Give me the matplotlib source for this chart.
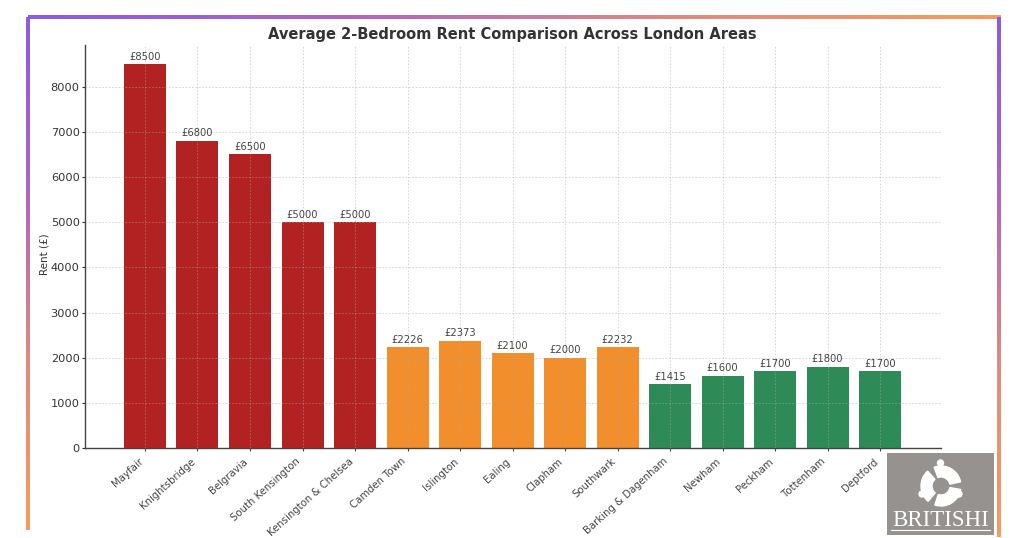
import numpy as np
import matplotlib
matplotlib.use('Agg')
import matplotlib.pyplot as plt
from matplotlib.colors import LinearSegmentedColormap
from matplotlib.patches import Rectangle, Circle, Wedge

areas = ['Mayfair', 'Knightsbridge', 'Belgravia', 'South Kensington', 'Kensington & Chelsea',
         'Camden Town', 'Islington', 'Ealing', 'Clapham', 'Southwark',
         'Barking & Dagenham', 'Newham', 'Peckham', 'Tottenham', 'Deptford']
rents = [8500, 6800, 6500, 5000, 5000,
         2226, 2373, 2100, 2000, 2232,
         1415, 1600, 1700, 1800, 1700]
bar_colors = ['#b22222'] * 5 + ['#f28e2b'] * 5 + ['#2e8b57'] * 5
y_ticks = [0, 1000, 2000, 3000, 4000, 5000, 6000, 7000, 8000]

W, H = 1024, 538
TEXT = '#333333'


def px_axes(fig, x0, y0, x1, y1, **kw):
    # axes placed by pixel box, y measured from the top
    return fig.add_axes([x0 / W, 1 - y1 / H, (x1 - x0) / W, (y1 - y0) / H], **kw)


fig = plt.figure(figsize=(W / 100, H / 100), dpi=100)

ax = px_axes(fig, 84.5, 45, 941, 448)
ax.bar(areas, rents, color=bar_colors, width=0.8, zorder=2)
ax.set_xlim(-1.152, 15.16)
ax.set_ylim(0, 8925)
ax.set_yticks(y_ticks)
ax.grid(True, linestyle=(0, (2, 2)), linewidth=0.6, color='#aaaaaa', alpha=0.55, zorder=3)
ax.set_axisbelow(False)
ax.spines['top'].set_visible(False)
ax.spines['right'].set_visible(False)
for s in ['left', 'bottom']:
    ax.spines[s].set_color('#444444')
    ax.spines[s].set_linewidth(1.0)
ax.tick_params(axis='y', colors=TEXT, labelsize=8.2, length=2, pad=1.5)
ax.tick_params(axis='x', labelsize=7.3, colors='#444444', length=2, pad=4)
plt.setp(ax.get_xticklabels(), rotation=42, ha='right')
ax.set_ylabel('Rent (£)', fontsize=7.5, color=TEXT)
ax.yaxis.set_label_coords(-0.041, 0.481)
for i, v in enumerate(rents):
    ax.text(i, v + 55, f'£{v}', ha='center', va='bottom', fontsize=7.2, color='#444444')
fig.text(512.5 / W, 1 - 34.5 / H, 'Average 2-Bedroom Rent Comparison Across London Areas',
         ha='center', va='center', fontsize=10.5, fontweight='bold', color=TEXT)

# gradient frame around the chart
frame = LinearSegmentedColormap.from_list('frame', ['#8a5be6', '#b065c0', '#e08a80', '#f79c5c'])
ramp = np.linspace(0, 1, 256)
for box, grad in [((28, 15, 1001, 19), ramp[None, :]),
                  ((25.5, 17, 29.5, 530), ramp[:, None]),
                  ((997, 17, 1001, 537), ramp[:, None])]:
    bar_ax = px_axes(fig, *box)
    bar_ax.imshow(grad, cmap=frame, aspect='auto')
    bar_ax.axis('off')

# logo block, bottom right
logo = px_axes(fig, 887, 453, 994, 535)
logo.set_xlim(887, 994)
logo.set_ylim(535, 453)
logo.axis('off')
logo.add_patch(Rectangle((887, 453), 107, 82, color='#96928f'))
for cx, cy in [(940.5, 463), (922, 494), (959, 494)]:
    logo.add_patch(Circle((cx, cy), 3, color='white'))
for ang in [0, 120, 240]:
    # y axis is flipped here so the wedge angles run clockwise on screen
    logo.add_patch(Wedge((941, 486), 20, 130 + ang, 228 + ang, width=11, color='white'))
logo.text(940.5, 520, 'BRITISHI', ha='center', va='center', color='white',
          fontsize=16.5, family='Liberation Serif')
logo.plot([891, 990], [530, 530], color='white', linewidth=0.8)

fig.savefig('out.png', dpi=100)
